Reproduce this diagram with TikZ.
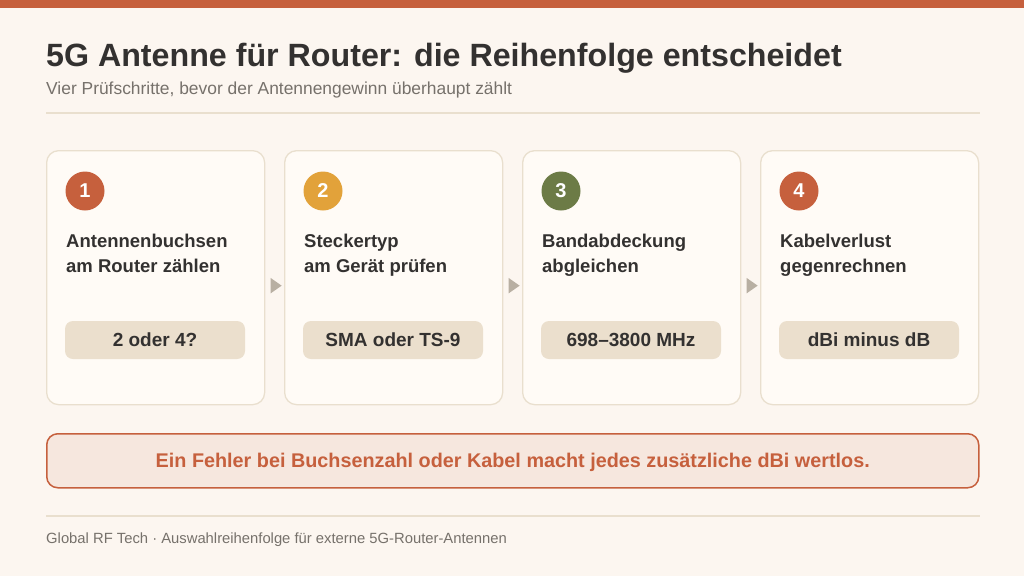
\documentclass[tikz,border=0pt]{standalone}
\usepackage{fontspec}
\setmainfont{Liberation Sans}
\usetikzlibrary{shapes.geometric,calc}
\definecolor{bgc}{HTML}{FCF6F0}
\definecolor{accent}{HTML}{C6603D}
\definecolor{gold}{HTML}{E2A23A}
\definecolor{olive}{HTML}{6C7B46}
\definecolor{cardfill}{HTML}{FFFBF6}
\definecolor{cardline}{HTML}{E9DFCE}
\definecolor{pillfill}{HTML}{EBDFCD}
\definecolor{darktext}{HTML}{333130}
\definecolor{graytext}{HTML}{76716B}
\definecolor{arrowc}{HTML}{B8AFA2}
\definecolor{notefill}{HTML}{F6E7DE}
\tikzset{
  card/.style={draw=cardline, line width=1.3pt, fill=cardfill, rounded corners=12pt, minimum width=218pt, minimum height=254pt, inner sep=0pt},
  pill/.style={fill=pillfill, rounded corners=8pt, minimum width=180pt, minimum height=38pt, inner sep=0pt, text height=13.5pt, text depth=0pt, font=\fontsize{19}{22}\selectfont\bfseries, text=darktext},
  numc/.style={circle, minimum size=39pt, inner sep=0pt, font=\fontsize{20}{22}\selectfont\bfseries, text=white},
  head/.style={anchor=base west, align=left, inner sep=0pt, font=\fontsize{18.5}{25}\selectfont\bfseries, text=darktext},
  arrowtri/.style={isosceles triangle, isosceles triangle apex angle=70, fill=arrowc, minimum height=11pt, inner sep=0pt},
}
\begin{document}
\begin{tikzpicture}[x=1pt,y=-1pt]
\useasboundingbox (0,0) rectangle (1024,576);
\fill[bgc] (0,0) rectangle (1024,576);
\fill[accent] (0,0) rectangle (1024,8);
\node[anchor=base west, inner sep=0pt, font=\fontsize{32.2}{36}\selectfont\bfseries, text=darktext] (title) at (46,66) {5G Antenne für Router: die Reihenfolge entscheidet};
\node[anchor=base west, inner sep=0pt, font=\fontsize{17.4}{20}\selectfont, text=graytext] (sub) at (46,94) {Vier Prüfschritte, bevor der Antennengewinn überhaupt zählt};
\draw[cardline, line width=1.2pt] (46,113) -- (980,113);
% cards
\foreach \i/\x/\c/\t/\p in {1/46/accent/{Antennenbuchsen\\am Router zählen}/{2 oder 4?},
  2/284/gold/{Steckertyp\\am Gerät prüfen}/{SMA oder TS-9},
  3/522/olive/{Bandabdeckung\\abgleichen}/{698–3800 MHz},
  4/760/accent/{Kabelverlust\\gegenrechnen}/{dBi minus dB}}{
  \node[card, anchor=north west] (c\i) at (\x,150) {};
  \node[numc, fill=\c] (n\i) at (\x+39,191) {\i};
  \node[head] (h\i) at (\x+20,272) {\t};
  \node[pill] (p\i) at (\x+109,340) {\p};
}
\foreach \a/\b in {1/2,2/3,3/4}{
  \path ($(c\a.east)+(0,8)$) -- ($(c\b.west)+(0,8)$) node[midway, arrowtri] (t\a) {};
}
\node[draw=accent, line width=1.5pt, fill=notefill, rounded corners=11pt, minimum width=932pt, minimum height=54pt, inner sep=0pt, text depth=0pt, anchor=north west, font=\fontsize{19.8}{22}\selectfont\bfseries, text=accent] (note) at (46,433) {Ein Fehler bei Buchsenzahl oder Kabel macht jedes zusätzliche dBi wertlos.};
\draw[cardline, line width=1.2pt] (46,516) -- (980,516);
\node[anchor=base west, inner sep=0pt, font=\fontsize{14.8}{17}\selectfont, text=graytext] (foot) at (46,543) {Global RF Tech · Auswahlreihenfolge für externe 5G-Router-Antennen};
\end{tikzpicture}
\end{document}
